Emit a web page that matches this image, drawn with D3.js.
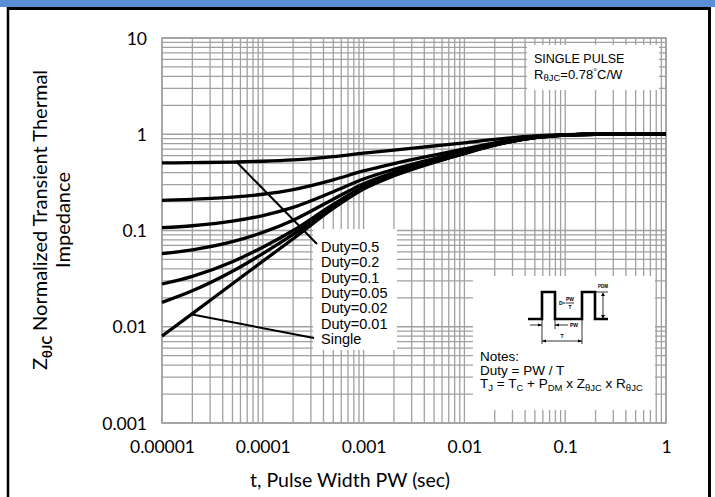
<!DOCTYPE html>
<html><head><meta charset="utf-8">
<script src="https://cdn.jsdelivr.net/npm/d3@7"></script>
<style>
body{margin:0;background:#fff;}
svg{display:block;}
</style></head>
<body>
<svg id="chart" width="715" height="497"></svg>
<script>
// ---- data ----
const pulseWidths = [1e-5, 2e-5, 5e-5, 1e-4, 2e-4, 5e-4, 1e-3, 2e-3, 5e-3, 1e-2, 2e-2, 5e-2, 0.1, 0.2, 0.5, 1];
const duty05  = [0.504, 0.507, 0.514, 0.524, 0.541, 0.585, 0.635, 0.685, 0.755, 0.815, 0.885, 0.96, 0.99, 1, 1, 1];
const duty02  = [0.206, 0.211, 0.222, 0.238, 0.266, 0.336, 0.416, 0.496, 0.608, 0.704, 0.816, 0.936, 0.984, 1, 1, 1];
const duty01  = [0.107, 0.112, 0.125, 0.143, 0.174, 0.253, 0.343, 0.433, 0.559, 0.667, 0.793, 0.928, 0.982, 1, 1, 1];
const duty005 = [0.0576, 0.063, 0.0766, 0.0956, 0.128, 0.2115, 0.3065, 0.4015, 0.5345, 0.6485, 0.7815, 0.924, 0.981, 1, 1, 1];
const duty002 = [0.0278, 0.0334, 0.0474, 0.067, 0.100, 0.187, 0.285, 0.383, 0.520, 0.637, 0.775, 0.922, 0.980, 1, 1, 1];
const duty001 = [0.0179, 0.0236, 0.0377, 0.0575, 0.091, 0.178, 0.277, 0.376, 0.515, 0.634, 0.772, 0.921, 0.980, 1, 1, 1];
const single  = [0.008, 0.0137, 0.028, 0.048, 0.082, 0.17, 0.27, 0.37, 0.51, 0.63, 0.77, 0.92, 0.98, 1, 1, 1];
const seriesList = [duty05, duty02, duty01, duty005, duty002, duty001, single];
const legendLabels = ["Duty=0.5", "Duty=0.2", "Duty=0.1", "Duty=0.05", "Duty=0.02", "Duty=0.01", "Single"];
const xTickValues = [1e-5, 1e-4, 1e-3, 1e-2, 1e-1, 1];
const xTickLabels = ["0.00001", "0.0001", "0.001", "0.01", "0.1", "1"];
const yTickValues = [0.001, 0.01, 0.1, 1, 10];
const yTickLabels = ["0.001", "0.01", "0.1", "1", "10"];

// ---- layout ----
const svg = d3.select("#chart");
const L = 162, R = 666, T = 38, B = 423;
const x = d3.scaleLog().domain([1e-5, 1]).range([L, R]);
const y = d3.scaleLog().domain([0.001, 10]).range([B, T]);
const gridColor = "#a0a0a0";
const sans = "'Liberation Sans', Arial, sans-serif";
const cal = "Lato, 'Open Sans', sans-serif";

// frame
svg.append("rect").attr("x", 0).attr("y", 0).attr("width", 715).attr("height", 7).attr("fill", "#5a8fd3");
svg.append("line").attr("x1", 7).attr("x2", 711).attr("y1", 8.5).attr("y2", 8.5).attr("stroke", "#000").attr("stroke-width", 3);
svg.append("line").attr("x1", 8).attr("x2", 8).attr("y1", 7).attr("y2", 497).attr("stroke", "#000").attr("stroke-width", 2.5);
svg.append("line").attr("x1", 709.5).attr("x2", 709.5).attr("y1", 7).attr("y2", 497).attr("stroke", "#000").attr("stroke-width", 3);

// grid
const grid = svg.append("g");
grid.selectAll(".vx").data(x.ticks()).join("line")
  .attr("x1", d => x(d)).attr("x2", d => x(d)).attr("y1", T).attr("y2", B)
  .attr("stroke", gridColor).attr("stroke-width", 1.3);
grid.selectAll(".hy").data(y.ticks()).join("line")
  .attr("x1", L).attr("x2", R).attr("y1", d => y(d)).attr("y2", d => y(d))
  .attr("stroke", gridColor).attr("stroke-width", 1.3);
grid.append("rect").attr("x", L).attr("y", T).attr("width", R - L).attr("height", B - T)
  .attr("fill", "none").attr("stroke", gridColor).attr("stroke-width", 1.6);

// white boxes over grid
svg.append("rect").attr("x", 527).attr("y", 45).attr("width", 132).attr("height", 45).attr("fill", "#fff");
svg.append("rect").attr("x", 313).attr("y", 229).attr("width", 84).attr("height", 121).attr("fill", "#fff");
svg.append("rect").attr("x", 473).attr("y", 276).attr("width", 182).attr("height", 134).attr("fill", "#fff");

// curves
const line = d3.line().x((d, i) => x(pulseWidths[i])).y(d => y(d)).curve(d3.curveMonotoneX);
svg.append("g").selectAll("path").data(seriesList).join("path")
  .attr("d", d => line(d)).attr("fill", "none").attr("stroke", "#000")
  .attr("stroke-width", 3.3).attr("stroke-linejoin", "round");

// leader lines
svg.append("line").attr("x1", x(5.5e-5)).attr("y1", y(duty05[2])).attr("x2", 317).attr("y2", 244)
  .attr("stroke", "#000").attr("stroke-width", 2);
svg.append("line").attr("x1", x(2e-5)).attr("y1", y(single[1]) + 1).attr("x2", 314).attr("y2", 338)
  .attr("stroke", "#000").attr("stroke-width", 2);

// legend labels
svg.append("g").selectAll("text").data(legendLabels).join("text")
  .attr("x", 321).attr("y", (d, i) => 252 + i * 15.3)
  .attr("font-family", sans).attr("font-size", 14.5).attr("fill", "#000").text(d => d);

// axes tick labels
const xAxis = d3.axisBottom(x).tickValues(xTickValues).tickFormat((d, i) => xTickLabels[i]).tickSize(0).tickPadding(0);
const gx = svg.append("g").attr("transform", `translate(0,${B})`).call(xAxis);
gx.select(".domain").remove();
gx.selectAll("text").attr("font-family", cal).attr("font-size", 17.5).attr("fill", "#000").attr("dy", 0).attr("y", 30);

const yAxis = d3.axisLeft(y).tickValues(yTickValues).tickFormat((d, i) => yTickLabels[i]).tickSize(0).tickPadding(15);
const gy = svg.append("g").attr("transform", `translate(${L},0)`).call(yAxis);
gy.select(".domain").remove();
gy.selectAll("text").attr("font-family", cal).attr("font-size", 17.5).attr("fill", "#000").attr("dy", "0.35em");

// axis titles
svg.append("text").attr("x", 350).attr("y", 487).attr("text-anchor", "middle")
  .attr("font-family", cal).attr("font-size", 19.5).attr("fill", "#000").text("t, Pulse Width PW (sec)");

const yt = svg.append("text").attr("transform", "translate(47,220) rotate(-90)").attr("text-anchor", "middle")
  .attr("font-family", cal).attr("font-size", 20).attr("fill", "#000");
yt.append("tspan").text("Z");
yt.append("tspan").attr("font-size", 13).attr("font-weight", "bold").attr("dy", 5).text("θJC");
yt.append("tspan").attr("dy", -5).text(" Normalized Transient Thermal");
svg.append("text").attr("transform", "translate(70,220) rotate(-90)").attr("text-anchor", "middle")
  .attr("font-family", cal).attr("font-size", 20).attr("fill", "#000").text("Impedance");

// SINGLE PULSE box text
svg.append("text").attr("x", 534).attr("y", 63).attr("font-family", sans).attr("font-size", 12.5).text("SINGLE PULSE");
const rt = svg.append("text").attr("x", 534).attr("y", 79).attr("font-family", sans).attr("font-size", 13);
rt.append("tspan").text("R");
rt.append("tspan").attr("font-size", 9.5).attr("dy", 2).text("θJC");
rt.append("tspan").attr("dy", -2).text("=0.78");
rt.append("tspan").attr("font-size", 9.5).attr("dy", -4).text("°");
rt.append("tspan").attr("dy", 4).text("C/W");

// Notes text
const nt = svg.append("g").attr("font-family", sans).attr("font-size", 13.5).attr("fill", "#000");
nt.append("text").attr("x", 480).attr("y", 361).text("Notes:");
nt.append("text").attr("x", 480).attr("y", 374.5).text("Duty = PW / T");
const tj = nt.append("text").attr("x", 480).attr("y", 388);
const parts = [["T", 0], ["J", 1], [" = T", 0], ["C", 1], [" + P", 0], ["DM", 1], [" x Z", 0], ["θJC", 1], [" x R", 0], ["θJC", 1]];
let prev = 0;
parts.forEach(([s, sub]) => {
  const shift = sub ? 3 : 0;
  tj.append("tspan").attr("dy", shift - prev).attr("font-size", sub ? 9.5 : 13.5).text(s);
  prev = shift;
});

// pulse diagram
const pd = svg.append("g").attr("transform", "translate(528,292)");
pd.append("path").attr("d", "M0,27 H14 V0 H27 V27 H54 V0 H67 V27 H80")
  .attr("fill", "none").attr("stroke", "#000").attr("stroke-width", 2.6);
function tl(x1, y1, x2, y2) { return pd.append("line").attr("x1", x1).attr("y1", y1).attr("x2", x2).attr("y2", y2).attr("stroke", "#000").attr("stroke-width", 0.8); }
tl(67, 0, 80, 0);
tl(75, 1, 75, 26);
pd.append("path").attr("d", "M73,4 L75,0.5 L77,4 Z M73,23 L75,26.5 L77,23 Z").attr("fill", "#000");
tl(14, 27, 14, 52); tl(27, 27, 27, 37); tl(54, 27, 54, 52);
tl(2, 33, 14, 33); pd.append("path").attr("d", "M10,31.5 L14,33 L10,34.5 Z").attr("fill", "#000");
tl(27, 33, 40, 33); pd.append("path").attr("d", "M31,31.5 L27,33 L31,34.5 Z").attr("fill", "#000");
pd.append("text").attr("x", 42).attr("y", 35).attr("font-family", sans).attr("font-size", 5).attr("font-weight", "bold").text("PW");
tl(14, 49, 54, 49);
pd.append("path").attr("d", "M18,47.5 L14,49 L18,50.5 Z M50,47.5 L54,49 L50,50.5 Z").attr("fill", "#000");
pd.append("text").attr("x", 34).attr("y", 46).attr("text-anchor", "middle").attr("font-family", sans).attr("font-size", 5).attr("font-weight", "bold").text("T");
pd.append("text").attr("x", 31).attr("y", 13).attr("font-family", sans).attr("font-size", 5).attr("font-weight", "bold").text("D=");
pd.append("text").attr("x", 42).attr("y", 9).attr("text-anchor", "middle").attr("font-family", sans).attr("font-size", 5).attr("font-weight", "bold").text("PW");
tl(38, 11, 46, 11);
pd.append("text").attr("x", 42).attr("y", 17).attr("text-anchor", "middle").attr("font-family", sans).attr("font-size", 5).attr("font-weight", "bold").text("T");
pd.append("text").attr("x", 70).attr("y", -4).attr("font-family", sans).attr("font-size", 4.5).attr("font-weight", "bold").text("PDM");
</script>
</body></html>
